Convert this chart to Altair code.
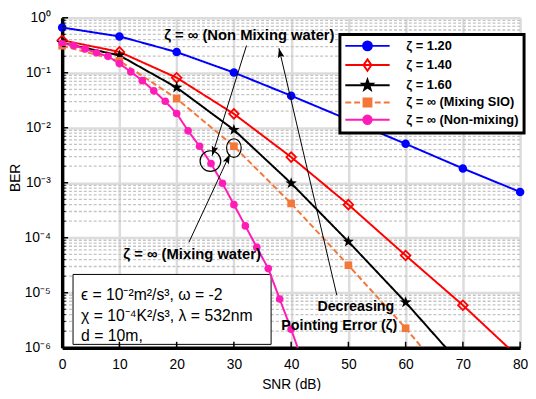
import math
import altair as alt
import pandas as pd

# ---------------- data ----------------
series = ["ζ = 1.20", "ζ = 1.40", "ζ = 1.60", "ζ = ∞ (Mixing SIO)", "ζ = ∞ (Non-mixing)"]
colors = ["#0000ff", "#ff0000", "#000000", "#f4773a", "#ff1cb6"]

snr_z120 = [0, 10, 20, 30, 40, 50, 60, 70, 80]
ber_z120 = [0.665, 0.459, 0.238, 0.101, 0.0383, 0.0140, 0.0051, 0.00182, 0.00068]

snr_z140 = [0, 10, 20, 30, 40, 50, 60, 70, 80]
ber_z140 = [0.39, 0.24, 0.0814, 0.0179, 0.00293, 0.00040, 0.0000476, 0.00000593, 0.00000063]

snr_z160 = [0, 10, 20, 30, 40, 50, 60, 70]
ber_z160 = [0.35, 0.207, 0.054, 0.00917, 0.00098, 0.000085, 0.0000067, 0.00000045]

snr_sio = [0, 10, 20, 30, 40, 50, 60, 70]
ber_sio = [0.31, 0.165, 0.0339, 0.00461, 0.00042, 0.0000316, 0.00000226, 0.00000013]

snr_nonmix = [0, 2, 4, 6, 8, 10, 12, 14, 16, 18, 20, 22, 24, 26, 28, 30, 32, 34, 36, 38, 40, 42]
ber_nonmix = [0.344, 0.313, 0.272, 0.231, 0.199, 0.147, 0.104, 0.072, 0.047, 0.0303, 0.0182,
              0.0088, 0.00461, 0.00223, 0.00098, 0.0004, 0.000164, 0.000067, 0.0000275,
              0.0000077, 0.00000217, 0.00000056]

x_ticks = [0, 10, 20, 30, 40, 50, 60, 70, 80]
y_ticks = [1, 1e-1, 1e-2, 1e-3, 1e-4, 1e-5, 1e-6]
y_tick_labels = ["10⁰", "10⁻¹", "10⁻²", "10⁻³", "10⁻⁴", "10⁻⁵", "10⁻⁶"]
y_minor = [m * 10.0 ** k for k in range(-6, 0) for m in range(2, 10)]

param_lines = ["ϵ = 10⁻²m²/s³, ω = -2", "χ = 10⁻⁴K²/s³, λ = 532nm", "d = 10m,"]

W, H = 465, 335
FONT = "Liberation Sans"

def rows(name, xs, ys):
    return [{"series": name, "snr": a, "ber": b} for a, b in zip(xs, ys)]

df = pd.DataFrame(
    rows(series[0], snr_z120, ber_z120) + rows(series[1], snr_z140, ber_z140)
    + rows(series[2], snr_z160, ber_z160) + rows(series[3], snr_sio, ber_sio)
    + rows(series[4], snr_nonmix, ber_nonmix)
)

xs = alt.Scale(domain=[0, 80], nice=False, zero=False)
ys = alt.Scale(type="log", domain=[1e-6, 1], nice=False)

label_expr = "[" + ",".join("'%s'" % s for s in y_tick_labels) + "][round(-log(datum.value)/LN10)]"

xaxis = alt.Axis(values=x_ticks, title="SNR (dB)", grid=True, gridColor="#dcdcdc", gridWidth=2.5,
                 domainColor="black", domainWidth=3.5, ticks=False, labelPadding=10,
                 labelFontSize=14, titleFontSize=14, titleFontWeight="normal", titlePadding=6,
                 labelColor="black", titleColor="black", labelFont=FONT, titleFont=FONT,
                 labelFlush=False)
yaxis = alt.Axis(values=y_ticks, labelExpr=label_expr, title="BER", grid=True, gridColor="#dcdcdc",
                 gridWidth=2.5, domainColor="black", domainWidth=3.5, ticks=False, labelPadding=12,
                 labelFontSize=14, titleFontSize=14, titleFontWeight="normal",
                 titleX=-43, titleY=162, titleBaseline="alphabetic",
                 labelColor="black", titleColor="black", labelFont=FONT, titleFont=FONT,
                 labelFlush=False)

def X(f="snr"):
    return alt.X(f, type="quantitative", scale=xs, axis=xaxis)

def Y(f="ber"):
    return alt.Y(f, type="quantitative", scale=ys, axis=yaxis)

# reversed domain order (same mapping) keeps these hidden legends apart from the visible one
color_enc = alt.Color("series:N", scale=alt.Scale(domain=series[::-1], range=colors[::-1]), legend=None)
dash_list = [[1, 0], [1, 0], [1, 0], [6, 3], [1, 0]]

# minor grid
minor_df = pd.DataFrame({"v": y_minor})
minor_grid = alt.Chart(minor_df).mark_rule(color="#c4c4c4", strokeWidth=1.3, strokeDash=[3, 2]).encode(
    y=Y("v"))

# parameter box
box_df = pd.DataFrame([{"x1": 1.9, "x2": 36.5, "y1": 2.15e-5, "y2": 1.15e-6}])
box = alt.Chart(box_df).mark_rect(fill="white", stroke="black", strokeWidth=1).encode(
    x=X("x1"), x2="x2", y=Y("y1"), y2="y2")

param_df = pd.DataFrame({"x": [3.3, 3.3, 3.3], "y": [9.1e-6, 3.7e-6, 1.62e-6], "t": param_lines})
params = alt.Chart(param_df).mark_text(align="left", baseline="middle", font=FONT, fontSize=16,
                                       color="black").encode(x=X("x"), y=Y("y"), text="t:N")

# lines
lines = alt.Chart(df).mark_line(clip=True, strokeWidth=2).encode(
    x=X(), y=Y(), color=color_enc, detail="series:N",
    strokeDash=alt.StrokeDash("series:N", scale=alt.Scale(domain=series[::-1],
                              range=dash_list[::-1]), legend=None))

STAR = ("M0,-1L0.235,-0.324L0.951,-0.309L0.380,0.124L0.588,0.809L0,0.4L-0.588,0.809"
        "L-0.380,0.124L-0.951,-0.309L-0.235,-0.324Z")

def pts(name, shape, size, filled=True, sw=1):
    d = df[(df.series == name) & (df.ber >= 1e-6)]
    return alt.Chart(d).mark_point(shape=shape, size=size, filled=filled, opacity=1,
                                   strokeWidth=sw).encode(x=X(), y=Y(), color=color_enc)

points = [
    pts(series[0], "circle", 75),
    pts(series[1], "diamond", 95, filled=False, sw=1.8),
    pts(series[2], STAR, 150),
    pts(series[3], "square", 60),
    pts(series[4], "circle", 60),
]

# annotations
def px(x):
    return x / 80.0 * W

def py(y):
    return -math.log10(y) / 6.0 * H

arrows = [
    {"x1": 32.2, "y1": 0.313, "x2": 26.2, "y2": 3.1e-3},
    {"x1": 47.97, "y1": 9.1e-6, "x2": 37.87, "y2": 0.28},
    {"x1": 22.15, "y1": 8.3e-5, "x2": 29.3, "y2": 3.3e-3},
]
for a in arrows:
    dx = px(a["x2"]) - px(a["x1"])
    dy = py(a["y2"]) - py(a["y1"])
    a["ang"] = (math.degrees(math.atan2(dx, -dy)) + 360) % 360
arr_df = pd.DataFrame(arrows)
arrow_lines = alt.Chart(arr_df).mark_rule(color="black", strokeWidth=1).encode(
    x=X("x1"), y=Y("y1"), x2="x2", y2="y2")
HEAD = "M0,0L0.55,1.6L0,1.3L-0.55,1.6Z"
arrow_heads = alt.Chart(arr_df).mark_point(shape=HEAD, size=150, filled=True, color="black",
                                           opacity=1).encode(
    x=X("x2"), y=Y("y2"), angle=alt.Angle("ang:Q", scale=None))

circ_df = pd.DataFrame([{"x": 25.9, "y": 2.48e-3}])
circ = alt.Chart(circ_df).mark_point(shape="circle", size=441, filled=False, color="black",
                                     strokeWidth=1.2, opacity=1).encode(x=X("x"), y=Y("y"))
ELL = "M0.78,0A0.78,1,0,1,1,-0.78,0A0.78,1,0,1,1,0.78,0Z"
ell_df = pd.DataFrame([{"x": 30.0, "y": 4.27e-3}])
ell = alt.Chart(ell_df).mark_point(shape=ELL, size=361, filled=False, color="black",
                                   strokeWidth=1.2, opacity=1).encode(x=X("x"), y=Y("y"))

ann_df = pd.DataFrame([
    {"x": 32.7, "y": 0.479, "t": "ζ = ∞ (Non Mixing water)", "fs": 15},
    {"x": 22.7, "y": 5.1e-5, "t": "ζ = ∞ (Mixing water)", "fs": 15},
    {"x": 51.3, "y": 5.5e-6, "t": "Decreasing", "fs": 14.5},
    {"x": 48.4, "y": 2.5e-6, "t": "Pointing Error (ζ)", "fs": 14.5},
])
ann = alt.Chart(ann_df).mark_text(align="center", baseline="middle", font=FONT,
                                  fontWeight="bold", color="black").encode(
    x=X("x"), y=Y("y"), text="t:N", size=alt.Size("fs:Q", scale=None, legend=None))

# inward ticks
ymaj_df = pd.DataFrame({"v": y_ticks})
ytick_major = alt.Chart(ymaj_df).mark_rule(color="black", strokeWidth=1.5).encode(
    y=Y("v"), x=alt.value(0), x2=alt.value(6))
ytick_minor = alt.Chart(minor_df).mark_rule(color="black", strokeWidth=1.2).encode(
    y=Y("v"), x=alt.value(0), x2=alt.value(3.5))
xt_df = pd.DataFrame({"v": x_ticks})
xtick = alt.Chart(xt_df).mark_rule(color="black", strokeWidth=1.5).encode(
    x=X("v"), y=alt.value(H), y2=alt.value(H - 6))

# legend (symbols: line + marker)
def circ_path(r):
    return "M%g,0A%g,%g,0,1,1,%g,0A%g,%g,0,1,1,%g,0Z" % (r, r, r, -r, r, r, r)

LINE = "M-4.5,0H4.5"
DLINE = "M-4.5,0H-3.3M-2.7,0H-1.5M-0.9,0H0.9M1.5,0H2.7M3.3,0H4.5"
STAR_L = ("M0,-1.1L0.259,-0.356L1.046,-0.340L0.418,0.136L0.647,0.890L0,0.44L-0.647,0.890"
          "L-0.418,0.136L-1.046,-0.340L-0.259,-0.356Z")
legend_shapes = [
    LINE + circ_path(0.9),
    LINE + "M0,-1.15L0.8,0L0,1.15L-0.8,0Z",
    LINE + STAR_L,
    DLINE + "M-0.8,-0.8H0.8V0.8H-0.8Z",
    LINE + circ_path(0.85),
]
leg_fills = ["#0000ff", "#ffffff", "#000000", "#f4773a", "#ff1cb6"]
leg_df = pd.DataFrame({"series": series, "snr": [-50] * 5, "ber": [0.1] * 5})
leg = alt.Legend(
    title=None, orient="none", legendX=282, legendY=17, padding=5,
    rowPadding=0.5, symbolSize=100, symbolOffset=16.5, labelOffset=33,
    symbolStrokeWidth=2, labelFont=FONT, labelFontSize=13,
    labelFontWeight="bold", labelColor="black", strokeColor="black",
    fillColor="white", labelLimit=300)
legend_layer = alt.Chart(leg_df).mark_point(clip=True, filled=True, opacity=1, strokeWidth=2).encode(
    x=X(), y=Y(),
    fill=alt.Fill("series:N", scale=alt.Scale(domain=series, range=leg_fills), legend=leg),
    stroke=alt.Stroke("series:N", scale=alt.Scale(domain=series, range=colors), legend=leg),
    shape=alt.Shape("series:N", scale=alt.Scale(domain=series, range=legend_shapes), legend=leg))

chart = alt.layer(
    minor_grid, box, params, lines, *points, arrow_lines, arrow_heads, circ, ell, ann,
    ytick_major, ytick_minor, xtick, legend_layer,
).properties(
    width=W, height=H,
    padding={"left": 55, "top": 7, "right": 8, "bottom": 41},
    autosize=alt.AutoSizeParams(type="none"),
).configure_view(stroke=None).configure_legend(strokeWidth=3)

chart.save("out.html", embed_options={"renderer": "svg", "actions": False})
